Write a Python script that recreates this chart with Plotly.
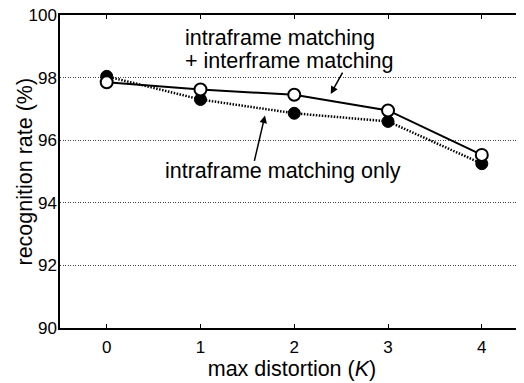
import plotly.graph_objects as go

K = [0, 1, 2, 3, 4]
intra_inter = [97.85, 97.62, 97.45, 96.95, 95.53]
intra_only = [98.04, 97.30, 96.86, 96.6, 95.25]
y_ticks = [90, 92, 94, 96, 98, 100]

FONT = "Liberation Sans, Arial, sans-serif"
TXT = 21.5
TICK = 17

fig = go.Figure()
fig.add_trace(go.Scatter(
    x=K, y=intra_only, mode="lines+markers",
    line=dict(color="black", width=2.5, dash="1.5px,1.5px"),
    marker=dict(symbol="circle", size=12, color="black", line=dict(color="black", width=1)),
    showlegend=False))
fig.add_trace(go.Scatter(
    x=K, y=intra_inter, mode="lines+markers",
    line=dict(color="black", width=2),
    marker=dict(symbol="circle", size=12, color="white", line=dict(color="black", width=2)),
    showlegend=False))

fig.add_annotation(x=2.389, y=97.48, ax=2.524, ay=98.21, xref="x", yref="y", axref="x", ayref="y",
                   text="", showarrow=True, arrowhead=2, arrowsize=1, arrowwidth=1.5, arrowcolor="black")
fig.add_annotation(x=1.688, y=96.79, ax=1.571, ay=95.29, xref="x", yref="y", axref="x", ayref="y",
                   text="", showarrow=True, arrowhead=2, arrowsize=1, arrowwidth=1.5, arrowcolor="black")
fig.add_annotation(x=0.81, y=99.26, xref="x", yref="y", showarrow=False, xanchor="left", yanchor="middle",
                   text="intraframe matching", font=dict(family=FONT, size=TXT, color="black"))
fig.add_annotation(x=0.81, y=98.52, xref="x", yref="y", showarrow=False, xanchor="left", yanchor="middle",
                   text="+ interframe matching", font=dict(family=FONT, size=TXT, color="black"))
fig.add_annotation(x=1.875, y=95.02, xref="x", yref="y", showarrow=False, xanchor="center", yanchor="middle",
                   text="intraframe matching only", font=dict(family=FONT, size=TXT, color="black"))
fig.add_annotation(x=-36 / 464, y=0.5, xref="paper", yref="paper", showarrow=False, textangle=-90,
                   xanchor="center", yanchor="middle",
                   text="recognition rate (%)", font=dict(family=FONT, size=TXT, color="black"))

# page body has an 8px default margin: figure is sized/offset to compensate
fig.update_layout(
    width=516, height=375,
    margin=dict(l=52, r=0, t=7, b=55, autoexpand=False),
    paper_bgcolor="white", plot_bgcolor="white",
    font=dict(family=FONT, size=TICK, color="black"),
)
fig.update_xaxes(
    range=[-0.498, 4.45], tickvals=K, ticks="inside", ticklen=4, tickcolor="black",
    showline=True, linecolor="black", linewidth=1.5, mirror="ticks", showgrid=False, zeroline=False,
    automargin=False, ticklabelstandoff=3,
    title=dict(text="max distortion (<i>K</i>)", font=dict(family=FONT, size=TXT), standoff=1),
    tickfont=dict(family=FONT, size=TICK))
fig.update_yaxes(
    range=[90, 100], tickvals=y_ticks, ticks="",
    showline=True, linecolor="black", linewidth=1.5, mirror=False,
    showgrid=True, gridcolor="#444444", griddash="1px,1.5px", gridwidth=1, zeroline=False,
    automargin=False, ticklabelstandoff=-2, ticklabeloverflow="allow",
    tickfont=dict(family=FONT, size=TICK))

fig.write_html("out.html")
